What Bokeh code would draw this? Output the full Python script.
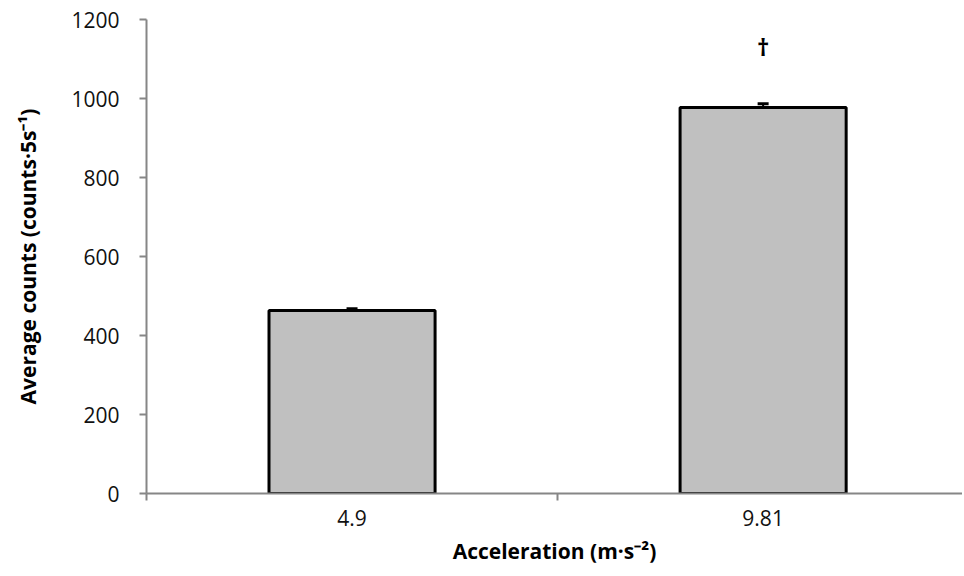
from bokeh.plotting import figure
from bokeh.models import FixedTicker, Range1d, ColumnDataSource, Whisker, Label
from bokeh.embed import file_html
from bokeh.resources import INLINE

categories = ["4.9", "9.81"]
means = [463, 977]
errors = [5, 10]
sig_marks = ["", "†"]
y_ticks = [0, 200, 400, 600, 800, 1000, 1200]

xpos = [i + 0.5 for i in range(len(categories))]
source = ColumnDataSource(data=dict(
    x=xpos, top=means,
    upper=[m + e for m, e in zip(means, errors)],
))

p = figure(width=962, height=568, output_backend="svg", toolbar_location=None,
           x_range=Range1d(0, len(categories) - 0.015), y_range=Range1d(0, 1200),
           min_border_left=146, min_border_right=0, min_border_top=19, min_border_bottom=75)
p.outline_line_color = None
p.xgrid.grid_line_color = None
p.ygrid.grid_line_color = None

p.vbar(x="x", top="top", bottom=0, width=0.404, source=source,
       fill_color="#c0c0c0", line_color="black", line_width=3)

w = Whisker(base="x", lower="top", upper="upper", source=source,
            line_color="black", line_width=2)
w.lower_head = None
w.upper_head.size = 11
w.upper_head.line_width = 3
w.upper_head.line_color = "black"
p.add_layout(w)

for x, m, e, s in zip(xpos, means, errors, sig_marks):
    if s:
        p.add_layout(Label(x=x, y=m + e + 145, text=s, text_align="center",
                           text_baseline="middle", text_font="Open Sans",
                           text_font_size="24px", text_font_style="bold",
                           text_color="black"))

font = "Open Sans"
ax_col = "#868686"

xa = p.xaxis[0]
xa.ticker = FixedTicker(ticks=xpos, minor_ticks=list(range(len(categories) + 1)))
xa.major_label_overrides = {x: c for x, c in zip(xpos, categories)}
xa.major_tick_out = 0
xa.major_tick_in = 0
xa.minor_tick_out = 7
xa.minor_tick_in = 0
xa.minor_tick_line_color = ax_col
xa.minor_tick_line_width = 2
xa.axis_line_color = ax_col
xa.axis_line_width = 2
xa.major_label_text_font = font
xa.major_label_text_font_size = "21px"
xa.major_label_text_color = "#111111"
xa.major_label_standoff = 9
xa.axis_label = "Acceleration (m·s⁻²)"
xa.axis_label_text_font = font
xa.axis_label_text_font_size = "21px"
xa.axis_label_text_font_style = "bold"
xa.axis_label_text_color = "black"
xa.axis_label_standoff = 8

ya = p.yaxis[0]
ya.ticker = FixedTicker(ticks=y_ticks)
ya.minor_tick_line_color = None
ya.major_tick_out = 7
ya.major_tick_in = 0
ya.major_tick_line_color = ax_col
ya.major_tick_line_width = 2
ya.axis_line_color = ax_col
ya.axis_line_width = 2
ya.major_label_text_font = font
ya.major_label_text_font_size = "21px"
ya.major_label_text_color = "#111111"
ya.major_label_standoff = 20
ya.axis_label = "Average counts (counts·5s⁻¹)"
ya.axis_label_text_font = font
ya.axis_label_text_font_size = "21px"
ya.axis_label_text_font_style = "bold"
ya.axis_label_text_color = "black"
ya.axis_label_standoff = 26

open("out.html", "w").write(file_html(p, INLINE))
